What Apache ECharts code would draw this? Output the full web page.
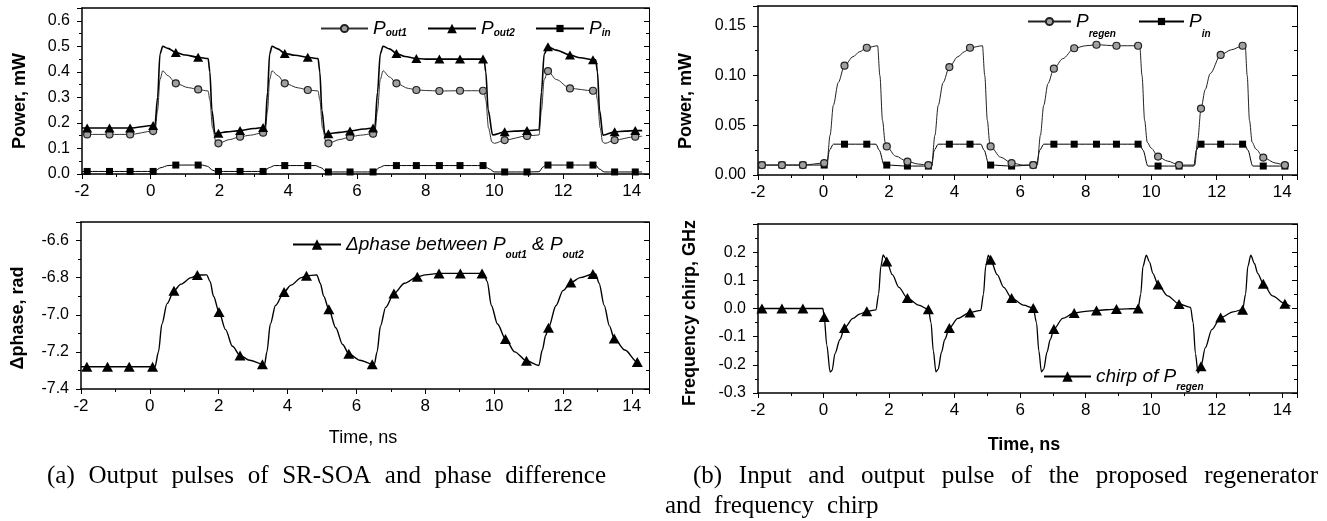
<!DOCTYPE html>
<html><head><meta charset="utf-8">
<script src="https://cdn.jsdelivr.net/npm/echarts@6/dist/echarts.min.js"></script>
<style>html,body{margin:0;padding:0;background:#fff}#c{width:1327px;height:521px}</style>
</head><body><div id="c"></div>
<script>
// ---------------- data (time in ns) ----------------
// Panel (a) top: output powers of SR-SOA
var pout2Line = [[-2,0.18],[0.12,0.187],[0.2,0.3],[0.27,0.47],[0.35,0.5],[0.5,0.492],[1.0,0.466],[1.67,0.452],[1.72,0.40],[1.78,0.25],[1.87,0.158],[2.2,0.165],[3.0,0.178],[3.33,0.185],[3.4,0.32],[3.46,0.47],[3.53,0.5],[3.7,0.49],[4.2,0.465],[4.87,0.452],[4.92,0.40],[4.98,0.25],[5.07,0.155],[5.5,0.163],[6.2,0.176],[6.52,0.182],[6.6,0.32],[6.68,0.47],[6.76,0.5],[6.95,0.49],[7.4,0.46],[8.0,0.45],[9.7,0.45],[9.75,0.40],[9.82,0.25],[9.95,0.153],[10.6,0.168],[11.3,0.173],[11.37,0.32],[11.45,0.47],[11.8,0.485],[12.5,0.455],[12.95,0.447],[13.0,0.40],[13.06,0.25],[13.16,0.152],[13.8,0.168],[14.3,0.17]];
var pout2Marks = [[-1.85,0.18],[-1.2,0.18],[-0.6,0.18],[0.07,0.19],[0.73,0.476],[1.38,0.457],[1.97,0.16],[2.6,0.17],[3.27,0.182],[3.9,0.472],[4.57,0.457],[5.17,0.158],[5.8,0.168],[6.47,0.18],[7.15,0.472],[7.73,0.452],[8.4,0.45],[9.0,0.45],[9.67,0.45],[10.3,0.165],[10.95,0.17],[11.56,0.498],[12.2,0.466],[12.87,0.447],[13.5,0.165],[14.1,0.17]];
var pout1Line = [[-2,0.155],[0.12,0.16],[0.2,0.25],[0.27,0.37],[0.35,0.404],[0.5,0.385],[1.1,0.338],[1.67,0.325],[1.72,0.29],[1.8,0.18],[1.9,0.125],[2.3,0.135],[2.9,0.152],[3.33,0.163],[3.4,0.25],[3.46,0.37],[3.53,0.404],[3.7,0.385],[4.3,0.337],[4.87,0.325],[4.92,0.29],[5.0,0.18],[5.1,0.125],[5.5,0.135],[6.1,0.152],[6.52,0.16],[6.6,0.25],[6.68,0.37],[6.76,0.404],[6.95,0.38],[7.5,0.335],[8.0,0.327],[9.7,0.325],[9.75,0.29],[9.83,0.18],[9.93,0.125],[10.0,0.12],[11.3,0.153],[11.37,0.25],[11.45,0.37],[11.8,0.37],[12.95,0.324],[13.0,0.29],[13.08,0.18],[13.15,0.125],[13.22,0.12],[14.3,0.148]];
var pout1Marks = [[-1.85,0.155],[-1.2,0.155],[-0.6,0.155],[0.07,0.168],[0.73,0.355],[1.38,0.331],[1.97,0.12],[2.6,0.146],[3.27,0.162],[3.9,0.355],[4.57,0.329],[5.17,0.12],[5.8,0.145],[6.47,0.158],[7.15,0.355],[7.73,0.329],[8.4,0.325],[9.0,0.326],[9.67,0.326],[10.3,0.133],[10.95,0.149],[11.56,0.403],[12.2,0.335],[12.87,0.326],[13.5,0.133],[14.1,0.146]];
var pinALine = [[-2,0.01],[0.1,0.01],[0.3,0.025],[0.5,0.033],[1.5,0.035],[1.65,0.03],[1.8,0.015],[1.9,0.01],[3.3,0.01],[3.45,0.025],[3.6,0.033],[4.8,0.033],[4.95,0.025],[5.1,0.01],[6.5,0.008],[6.65,0.025],[6.8,0.033],[9.7,0.033],[9.85,0.02],[10.0,0.008],[11.3,0.009],[11.42,0.028],[11.5,0.035],[12.95,0.035],[13.05,0.02],[13.2,0.008],[14.3,0.008]];
var pinAMarks = [[-1.85,0.01],[-1.2,0.01],[-0.6,0.01],[0.07,0.01],[0.73,0.035],[1.38,0.035],[1.97,0.01],[2.6,0.01],[3.27,0.01],[3.9,0.033],[4.57,0.033],[5.17,0.008],[5.8,0.008],[6.47,0.008],[7.15,0.033],[7.73,0.033],[8.4,0.033],[9.0,0.033],[9.67,0.033],[10.3,0.008],[10.95,0.008],[11.56,0.035],[12.2,0.035],[12.87,0.035],[13.5,0.008],[14.1,0.008]];
// Panel (a) bottom: phase difference (rad)
var dphLine = [[-2,-7.28],[0.15,-7.28],[0.25,-7.2],[0.35,-7.05],[0.5,-6.94],[0.9,-6.835],[1.2,-6.8],[1.65,-6.785],[1.75,-6.82],[1.85,-6.9],[2.2,-7.08],[2.4,-7.17],[2.9,-7.245],[3.33,-7.27],[3.4,-7.2],[3.5,-7.05],[3.65,-6.95],[4.1,-6.84],[4.4,-6.8],[4.85,-6.785],[4.95,-6.83],[5.05,-6.9],[5.4,-7.07],[5.6,-7.16],[6.1,-7.245],[6.52,-7.268],[6.6,-7.2],[6.7,-7.06],[6.85,-6.96],[7.4,-6.83],[8.0,-6.785],[9.7,-6.778],[9.8,-6.82],[9.92,-6.95],[10.1,-7.05],[10.6,-7.2],[11.3,-7.273],[11.4,-7.19],[11.5,-7.11],[11.8,-6.95],[12.0,-6.87],[12.5,-6.8],[12.95,-6.78],[13.05,-6.83],[13.2,-6.95],[13.35,-7.06],[13.8,-7.19],[14.22,-7.262]];
var dphMarks = [[-1.83,-7.28],[-1.23,-7.28],[-0.6,-7.28],[0.08,-7.28],[0.7,-6.871],[1.38,-6.786],[2.01,-6.985],[2.62,-7.219],[3.27,-7.266],[3.9,-6.877],[4.55,-6.79],[5.2,-6.97],[5.78,-7.21],[6.46,-7.266],[7.09,-6.885],[7.77,-6.795],[8.4,-6.777],[9.02,-6.777],[9.65,-6.777],[10.33,-7.13],[10.94,-7.248],[11.58,-7.07],[12.23,-6.826],[12.87,-6.78],[13.49,-7.128],[14.16,-7.255]];
// Panel (b) top: regenerated and input power
var regenLine = [[-2,0.01],[0.1,0.01],[0.2,0.04],[0.3,0.07],[0.45,0.093],[0.9,0.119],[1.1,0.124],[1.65,0.13],[1.72,0.10],[1.8,0.055],[1.88,0.033],[2.2,0.019],[2.9,0.011],[3.3,0.01],[3.4,0.04],[3.5,0.07],[3.65,0.093],[4.1,0.119],[4.3,0.124],[4.85,0.13],[4.92,0.10],[5.0,0.055],[5.07,0.033],[5.4,0.018],[6.1,0.01],[6.52,0.01],[6.62,0.04],[6.72,0.07],[6.85,0.092],[7.3,0.117],[8.0,0.13],[9.65,0.13],[9.72,0.10],[9.8,0.055],[9.88,0.033],[10.0,0.027],[10.5,0.014],[11.33,0.01],[11.42,0.035],[11.65,0.086],[11.8,0.102],[12.45,0.126],[12.87,0.13],[12.93,0.10],[13.0,0.055],[13.08,0.033],[13.2,0.026],[13.8,0.012],[14.2,0.01]];
var regenMarks = [[-1.88,0.01],[-1.27,0.01],[-0.63,0.01],[0.02,0.012],[0.64,0.11],[1.32,0.128],[1.93,0.0287],[2.56,0.0135],[3.2,0.01],[3.84,0.1086],[4.47,0.128],[5.1,0.0287],[5.74,0.012],[6.4,0.01],[7.03,0.107],[7.65,0.1275],[8.33,0.131],[8.94,0.13],[9.6,0.13],[10.21,0.0185],[10.85,0.01],[11.52,0.0668],[12.12,0.1208],[12.79,0.13],[13.42,0.0175],[14.08,0.01]];
var pinBLine = [[-2,0.01],[0.1,0.01],[0.18,0.025],[0.3,0.031],[1.6,0.031],[1.7,0.025],[1.85,0.01],[3.3,0.009],[3.38,0.025],[3.5,0.031],[4.8,0.031],[4.9,0.025],[5.05,0.01],[6.5,0.01],[6.6,0.025],[6.72,0.031],[9.65,0.031],[9.75,0.025],[9.9,0.009],[11.3,0.009],[11.38,0.025],[11.48,0.031],[12.85,0.031],[12.95,0.025],[13.1,0.009],[14.2,0.009]];
var pinBMarks = [[-1.88,0.01],[-1.27,0.01],[-0.63,0.01],[0.02,0.01],[0.64,0.031],[1.32,0.031],[1.93,0.01],[2.56,0.009],[3.2,0.009],[3.84,0.031],[4.47,0.031],[5.1,0.01],[5.74,0.009],[6.4,0.01],[7.03,0.031],[7.65,0.031],[8.33,0.031],[8.94,0.031],[9.6,0.031],[10.21,0.009],[10.85,0.009],[11.52,0.031],[12.12,0.031],[12.79,0.031],[13.42,0.009],[14.08,0.009]];
// Panel (b) bottom: frequency chirp (GHz)
var chirpLine = [[-2,0],[-0.02,0],[0.1,-0.13],[0.2,-0.225],[0.26,-0.22],[0.35,-0.16],[0.5,-0.11],[0.9,-0.035],[1.1,-0.02],[1.6,-0.005],[1.68,0.05],[1.75,0.15],[1.82,0.19],[1.88,0.18],[2.1,0.12],[2.3,0.075],[2.9,0.012],[3.28,-0.05],[3.35,-0.15],[3.43,-0.225],[3.5,-0.215],[3.6,-0.155],[3.7,-0.11],[4.1,-0.035],[4.8,-0.007],[4.88,0.05],[4.95,0.15],[5.03,0.189],[5.3,0.12],[5.5,0.075],[6.1,0.012],[6.5,-0.05],[6.57,-0.15],[6.65,-0.225],[6.72,-0.215],[6.82,-0.155],[6.92,-0.11],[7.3,-0.035],[8.0,-0.01],[9.68,0.05],[9.75,0.15],[9.85,0.189],[9.95,0.165],[10.05,0.125],[10.5,0.045],[11.2,0.004],[11.28,-0.05],[11.35,-0.16],[11.43,-0.229],[11.65,-0.14],[11.85,-0.075],[12.5,-0.012],[12.88,0.05],[12.95,0.15],[13.04,0.189],[13.15,0.16],[13.25,0.125],[13.7,0.045],[14.25,0.008]];
var chirpMarks = [[-1.88,0],[-1.27,0],[-0.63,0],[0.02,-0.03],[0.64,-0.069],[1.32,-0.01],[1.93,0.167],[2.56,0.037],[3.2,-0.003],[3.84,-0.069],[4.47,-0.014],[5.1,0.173],[5.74,0.037],[6.4,0.002],[7.03,-0.073],[7.65,-0.016],[8.33,-0.007],[8.94,-0.002],[9.6,0],[10.21,0.085],[10.85,0.016],[11.52,-0.205],[12.12,-0.032],[12.79,-0.004],[13.42,0.088],[14.08,0.017]];

var xTicksA = {min:-2, max:14.5, interval:2};
var xTicksB = {min:-2, max:14.45, interval:2};
var yTicks = [
  {min:0, max:0.65, interval:0.1, dec:1},
  {min:-7.4, max:-6.5, interval:0.2, dec:1},
  {min:0, max:0.17, interval:0.05, dec:2},
  {min:-0.3, max:0.3, interval:0.1, dec:1}
];
var yNames = ['Power, mW', '\u0394phase, rad', 'Power, mW', 'Frequency chirp, GHz'];
var captionA = '(a) Output pulses of SR-SOA and phase difference';
var captionB1 = '(b) Input and output pulse of the proposed regenerator';
var captionB2 = 'and frequency chirp';

// ---------------- helpers ----------------
function merge(line, marks){
  var pts = marks.map(function(p){return {v:p, m:true};});
  line.forEach(function(p){
    if(!marks.some(function(q){return Math.abs(q[0]-p[0])<1e-6;})) pts.push({v:p, m:false});
  });
  pts.sort(function(a,b){return a.v[0]-b.v[0];});
  return pts.map(function(p){return p.m ? {value:p.v} : {value:p.v, symbol:'none'};});
}
var SANS = 'Liberation Sans';
var grids = [
  {left:82, top:8, width:567, height:166},
  {left:81, top:222, width:568, height:167},
  {left:758, top:6, width:539, height:169},
  {left:758, top:224, width:539, height:169}
];
var xAxes = [], yAxes = [];
grids.forEach(function(g, i){
  var xt = i < 2 ? xTicksA : xTicksB;
  xAxes.push({type:'value', gridIndex:i, min:xt.min, max:xt.max, interval:xt.interval, position:'bottom',
    axisLine:{show:true, onZero:false, lineStyle:{color:'#000', width:1.5}},
    axisTick:{show:true, inside:false, length:5, lineStyle:{color:'#000', width:1}},
    minorTick:{show:true, splitNumber:2, length:3, lineStyle:{color:'#000', width:1}},
    splitLine:{show:false},
    axisLabel:{show:true, margin:9, fontSize:17, color:'#000', fontFamily:SANS, showMaxLabel:false,
      formatter:function(v){return String(Math.round(v));}}
  });
  xAxes.push({type:'value', gridIndex:i, min:xt.min, max:xt.max, interval:xt.interval, position:'top',
    axisLine:{show:true, onZero:false, lineStyle:{color:'#000', width:1.5}},
    axisTick:{show:false}, axisLabel:{show:false}, splitLine:{show:false}});
  var yt = yTicks[i];
  yAxes.push({type:'value', gridIndex:i, min:yt.min, max:yt.max, interval:yt.interval, position:'left',
    axisLine:{show:true, onZero:false, lineStyle:{color:'#000', width:1.5}},
    axisTick:{show:true, inside:false, length:5, lineStyle:{color:'#000', width:1}},
    minorTick:{show:true, splitNumber:2, length:3, lineStyle:{color:'#000', width:1}},
    splitLine:{show:false},
    axisLabel:{show:true, margin:12, fontSize:16, color:'#000', fontFamily:SANS, showMaxLabel:false,
      formatter:(function(d){return function(v){return v.toFixed(d);};})(yt.dec)}
  });
  yAxes.push({type:'value', gridIndex:i, min:yt.min, max:yt.max, interval:yt.interval, position:'right',
    axisLine:{show:true, onZero:false, lineStyle:{color:'#000', width:1}},
    axisTick:{show:true, inside:true, length:5, lineStyle:{color:'#000', width:1}},
    minorTick:{show:true, splitNumber:2, length:3, lineStyle:{color:'#000', width:1}},
    splitLine:{show:false}, axisLabel:{show:false}});
});

var circleStyle = {color:'#a0a0a0', borderColor:'#222', borderWidth:1.2};
function ser(name, gi, line, marks, symbol, size, itemStyle, lw, lc){
  return {name:name, type:'line', xAxisIndex:2*gi, yAxisIndex:2*gi, data:merge(line, marks),
    symbol:symbol, symbolSize:size, showSymbol:true, showAllSymbol:true,
    smooth:0.3, smoothMonotone:'x', silent:true, animation:false,
    itemStyle:itemStyle, lineStyle:{color:lc||'#000', width:lw}, emphasis:{disabled:true}};
}
var series = [
  ser('P_in_a', 0, pinALine, pinAMarks, 'rect', 7, {color:'#000'}, 1),
  ser('P_out1', 0, pout1Line, pout1Marks, 'circle', 7, circleStyle, 1, '#333'),
  ser('P_out2', 0, pout2Line, pout2Marks, 'triangle', [10,9], {color:'#000'}, 1.6),
  ser('dphase', 1, dphLine, dphMarks, 'triangle', [11,10], {color:'#000'}, 1.4),
  ser('P_in_b', 2, pinBLine, pinBMarks, 'rect', 7, {color:'#000'}, 1),
  ser('P_regen', 2, regenLine, regenMarks, 'circle', 7, circleStyle, 1, '#222'),
  ser('chirp', 3, chirpLine, chirpMarks, 'triangle', [11,10], {color:'#000'}, 1.3)
];

function richStyles(L){
  return {
    p:{fontSize:19, fontStyle:'italic', fontFamily:SANS, color:'#000', lineHeight:L},
    t:{fontSize:19, fontStyle:'italic', fontFamily:SANS, color:'#000', lineHeight:L},
    s:{fontSize:10, fontStyle:'italic', fontWeight:'bold', fontFamily:SANS, color:'#000', verticalAlign:'bottom'}
  };
}
function leg(name, txt, left, top, w, ih, L){
  return {data:[name], left:left, top:top, itemWidth:w, itemHeight:ih, padding:0, selectedMode:false,
    formatter:function(){return txt;}, textStyle:{rich:richStyles(L)}};
}
var legends = [
  leg('P_out1', '{p|P}{s|out1}', 320, 19, 47, 9, 20),
  leg('P_out2', '{p|P}{s|out2}', 427, 19, 48, 12, 20),
  leg('P_in_a', '{p|P}{s|in}', 535, 19, 48, 9, 20),
  leg('dphase', '{t|\u0394phase between }{p|P}{s|out1}{t| & }{p|P}{s|out2}', 292, 235, 48, 13, 32),
  leg('P_regen', '{p|P}{s|regen}', 1027, 12, 43, 9, 36),
  leg('P_in_b', '{p|P}{s|in}', 1138, 12, 45, 9, 36),
  leg('chirp', '{t|chirp of }{p|P}{s|regen}', 1043, 367, 47, 13, 32)
];

// justified caption helper
var mctx = document.createElement('canvas').getContext('2d');
function capText(str, left, y, width, fixedGap){
  var fs = 25, ff = 'Liberation Serif';
  mctx.font = fs + 'px "' + ff + '"';
  var words = str.split(' ');
  var sum = 0; words.forEach(function(w){sum += mctx.measureText(w).width;});
  var gap = fixedGap != null ? fixedGap : (width - sum) / (words.length - 1);
  var txt = words.map(function(w){return '{w|' + w + '}';}).join('{g| }');
  return {type:'text', x:left, y:y, silent:true, style:{text:txt, verticalAlign:'middle', align:'left',
    rich:{w:{fontSize:fs, fontFamily:ff, fill:'#000'}, g:{width:gap, fontSize:fs, fontFamily:ff, fill:'#000'}}}};
}
function vText(t, x, y){
  return {type:'text', x:x, y:y, rotation:Math.PI/2, silent:true,
    style:{text:t, align:'center', verticalAlign:'middle', fill:'#000', fontSize:18, fontWeight:'bold', fontFamily:SANS}};
}
var graphics = [
  vText(yNames[0], 20, 101), vText(yNames[1], 18.5, 318), vText(yNames[2], 686.5, 101), vText(yNames[3], 690.5, 313),
  {type:'text', x:363, y:438.5, silent:true, style:{text:'Time, ns', align:'center', verticalAlign:'middle', fill:'#000', fontSize:18, fontFamily:SANS}},
  {type:'text', x:1024, y:445, silent:true, style:{text:'Time, ns', align:'center', verticalAlign:'middle', fill:'#000', fontSize:18, fontWeight:'bold', fontFamily:SANS}},
  capText(captionA, 47, 476, 559),
  capText(captionB1, 693, 476, 625),
  capText(captionB2, 665, 506, 0, 13)
];

var chart = echarts.init(document.getElementById('c'), null, {renderer:'canvas'});
chart.setOption({
  animation:false, backgroundColor:'#fff',
  textStyle:{fontFamily:SANS},
  grid:grids, xAxis:xAxes, yAxis:yAxes, series:series, legend:legends, graphic:graphics
});
</script></body></html>
